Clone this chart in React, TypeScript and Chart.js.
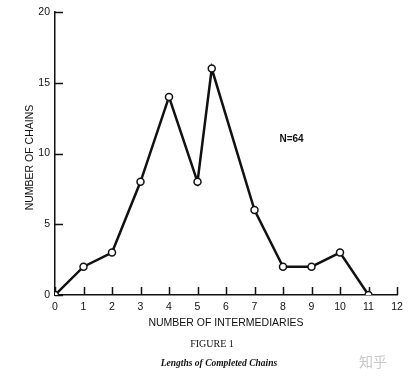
import React, { useEffect, useRef } from "react";
import { Chart, registerables } from "chart.js";

Chart.register(...registerables);

// ---- Data ----
const intermediaries = [0, 1, 2, 3, 4, 5, 5.5, 7, 8, 9, 10, 11];
const chainCounts = [0, 2, 3, 8, 14, 8, 16, 6, 2, 2, 3, 0];
const xTickValues = [0, 1, 2, 3, 4, 5, 6, 7, 8, 9, 10, 11, 12];
const yTickValues = [0, 5, 10, 15, 20];
const xTitle = "NUMBER OF INTERMEDIARIES";
const yTitle = "NUMBER OF CHAINS";
const figureLabel = "FIGURE 1";
const caption = "Lengths of Completed Chains";
const noteText = "N=64";
const noteAt = { x: 8.3, y: 11 };
const watermark = "知乎";

const INK = "#111";
const SANS = "'Liberation Sans', Arial, sans-serif";
const SERIF = "'Liberation Serif', 'Times New Roman', serif";

const decorPlugin = {
  id: "decor",
  beforeDatasetsDraw(chart: any) {
    const { ctx, chartArea, scales } = chart;
    const x = scales.x;
    const y = scales.y;
    ctx.save();
    ctx.strokeStyle = INK;
    ctx.lineWidth = 1.5;
    ctx.beginPath();
    for (const v of xTickValues) {
      const px = Math.round(x.getPixelForValue(v)) + 0.5;
      ctx.moveTo(px, chartArea.bottom);
      ctx.lineTo(px, chartArea.bottom - 8);
    }
    for (const v of yTickValues) {
      const py = Math.round(y.getPixelForValue(v)) + 0.5;
      ctx.moveTo(chartArea.left, py);
      ctx.lineTo(chartArea.left + 8, py);
    }
    ctx.stroke();
    ctx.restore();
  },
  afterDraw(chart: any) {
    const { ctx, chartArea, scales, width } = chart;
    const x = scales.x;
    const y = scales.y;
    ctx.save();
    ctx.fillStyle = INK;
    ctx.textAlign = "center";
    ctx.textBaseline = "middle";

    // y title
    ctx.save();
    ctx.translate(30, (chartArea.top + chartArea.bottom) / 2 + 4);
    ctx.rotate(-Math.PI / 2);
    ctx.font = `10.5px ${SANS}`;
    ctx.fillText(yTitle, 0, 0);
    ctx.restore();

    // x title
    ctx.font = `10.5px ${SANS}`;
    ctx.fillText(xTitle, (chartArea.left + chartArea.right) / 2, chartArea.bottom + 28);

    // figure label
    ctx.font = `10px ${SERIF}`;
    ctx.fillText(figureLabel, 212, chartArea.bottom + 49);

    // caption
    ctx.font = `italic bold 9.5px ${SERIF}`;
    ctx.fillText(caption, 219, chartArea.bottom + 69);

    // annotation
    ctx.font = `bold 10px ${SANS}`;
    ctx.fillText(noteText, x.getPixelForValue(noteAt.x), y.getPixelForValue(noteAt.y));

    // watermark
    ctx.fillStyle = "#c8c8c8";
    ctx.font = `14px 'Noto Sans CJK SC', sans-serif`;
    ctx.textAlign = "right";
    ctx.fillText(watermark, width - 30, chartArea.bottom + 67);
    ctx.restore();
  },
};

export default function App() {
  const canvasRef = useRef<HTMLCanvasElement | null>(null);

  useEffect(() => {
    if (!canvasRef.current) return;
    const chart = new Chart(canvasRef.current, {
      type: "line",
      data: {
        datasets: [
          {
            data: intermediaries.map((v, i) => ({ x: v, y: chainCounts[i] })),
            borderColor: INK,
            borderWidth: 2.5,
            tension: 0,
            pointRadius: 3.5,
            pointBorderWidth: 1.5,
            pointBackgroundColor: "#fff",
            pointBorderColor: INK,
            fill: false,
          },
        ],
      },
      options: {
        responsive: false,
        animation: false,
        layout: { padding: { top: 12, right: 20, bottom: 0, left: 0 } },
        plugins: {
          legend: { display: false },
          tooltip: { enabled: false },
        },
        scales: {
          x: {
            type: "linear",
            min: 0,
            max: 12,
            afterBuildTicks: (s: any) => {
              s.ticks = xTickValues.map((v) => ({ value: v }));
            },
            ticks: {
              color: INK,
              font: { size: 10.5, family: SANS },
              padding: 6,
              maxRotation: 0,
              autoSkip: false,
            },
            grid: { display: true, drawOnChartArea: false, drawTicks: false },
            border: { display: true, color: INK, width: 1.5 },
            afterFit: (s: any) => {
              s.height = 84;
            },
          },
          y: {
            type: "linear",
            min: 0,
            max: 20,
            afterBuildTicks: (s: any) => {
              s.ticks = yTickValues.map((v) => ({ value: v }));
            },
            ticks: {
              color: INK,
              font: { size: 10.5, family: SANS },
              padding: 5,
            },
            grid: { display: true, drawOnChartArea: false, drawTicks: false },
            border: { display: true, color: INK, width: 1.5 },
            afterFit: (s: any) => {
              s.width = 55;
            },
          },
        },
      },
      plugins: [decorPlugin],
    } as any);
    return () => chart.destroy();
  }, []);

  return (
    <div style={{ position: "absolute", left: 0, top: 0, width: 417, height: 379, background: "#fff" }}>
      <canvas ref={canvasRef} width={417} height={379} />
    </div>
  );
}
